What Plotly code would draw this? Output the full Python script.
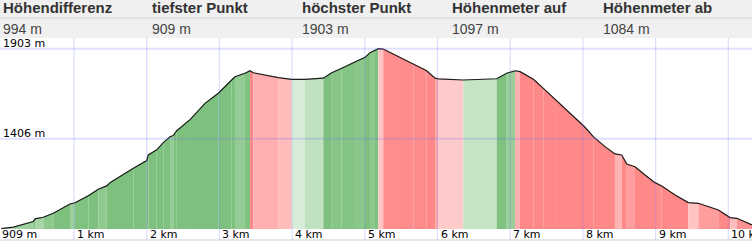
import plotly.graph_objects as go

# ---- data ----
dist_km = [0.0, 0.074, 0.165, 0.44, 0.464, 0.578, 0.715, 0.945, 1.014, 1.197, 1.334,
           1.45, 1.495, 1.816, 2.0, 2.022, 2.138, 2.228, 2.32, 2.366, 2.413, 2.596,
           2.802, 2.985, 3.169, 3.214, 3.352, 3.421, 3.466, 3.81, 3.994, 4.177, 4.429,
           4.545, 4.682, 4.865, 5.003, 5.072, 5.14, 5.186, 5.254, 5.484, 5.667, 5.851,
           5.966, 6.011, 6.355, 6.814, 6.952, 7.066, 7.135, 7.319, 7.456, 7.617, 7.685,
           7.754, 8.029, 8.143, 8.304, 8.441, 8.534, 8.603, 8.717, 8.855, 8.992, 9.084,
           9.267, 9.45, 9.588, 9.863, 10.024, 10.117, 10.326]
elev_m = [909, 911, 917, 948, 963, 972, 994, 1045, 1052, 1091, 1127,
          1145, 1163, 1242, 1285, 1316, 1344, 1384, 1417, 1423, 1450, 1511,
          1601, 1657, 1734, 1748, 1767, 1781, 1770, 1743, 1734, 1734, 1740,
          1770, 1795, 1831, 1855, 1881, 1892, 1903, 1901, 1855, 1818, 1781,
          1740, 1736, 1730, 1737, 1767, 1781, 1776, 1734, 1684, 1623, 1601,
          1574, 1469, 1417, 1362, 1322, 1316, 1266, 1251, 1205, 1163, 1145,
          1095, 1053, 1049, 1012, 970, 966, 930]

header_labels = ["Höhendifferenz", "tiefster Punkt", "höchster Punkt", "Höhenmeter auf", "Höhenmeter ab"]
header_values = ["994 m", "909 m", "1903 m", "1097 m", "1084 m"]
y_ticks = [1903, 1406]
y_tick_labels = ["1903 m", "1406 m"]
min_label = "909 m"
x_ticks = [1, 2, 3, 4, 5, 6, 7, 8, 9, 10]
x_tick_labels = [f"{k} km" for k in x_ticks]

W, H = 752, 241
TOP, BOT = 38, 12
plot_h = H - TOP - BOT


def py2paper(py):
    return (H - BOT - py) / plot_h


def seg_color(grade):
    t = min(abs(grade) / 0.22, 1.0) ** 0.6
    if grade >= 0:
        light, full = (216, 237, 216), (126, 193, 126)
    else:
        light, full = (255, 220, 220), (255, 136, 136)
    c = [round(l + (f - l) * t) for l, f in zip(light, full)]
    return f"rgb({c[0]},{c[1]},{c[2]})"


fig = go.Figure()
for i in range(len(dist_km) - 1):
    d0, d1 = dist_km[i], dist_km[i + 1]
    e0, e1 = elev_m[i], elev_m[i + 1]
    g = (e1 - e0) / ((d1 - d0) * 1000)
    col = seg_color(g)
    fig.add_trace(go.Scatter(x=[d0, d1], y=[e0, e1], mode="lines", fill="tozeroy",
                             fillcolor=col, line=dict(color=col, width=0.8),
                             hoverinfo="skip", showlegend=False))

fig.add_trace(go.Scatter(x=dist_km, y=elev_m, mode="lines",
                         line=dict(color="#1c1c1c", width=1.2),
                         hoverinfo="skip", showlegend=False))

shapes = []
# header background
shapes.append(dict(type="rect", xref="paper", yref="paper", x0=0, x1=1,
                   y0=py2paper(38), y1=py2paper(0), fillcolor="#f0f0f0",
                   line=dict(width=0), layer="below"))
shapes.append(dict(type="line", xref="paper", yref="paper", x0=0, x1=1,
                   y0=py2paper(18), y1=py2paper(18), line=dict(color="#d6d6d6", width=1)))
shapes.append(dict(type="line", xref="paper", yref="paper", x0=0, x1=1,
                   y0=py2paper(240), y1=py2paper(240), line=dict(color="#cfcfcf", width=1)))
# grid lines (drawn above the profile, translucent)
for yt in y_ticks:
    shapes.append(dict(type="line", xref="paper", yref="y", x0=0, x1=1, y0=yt, y1=yt,
                       line=dict(color="rgba(110,110,255,0.22)", width=2), layer="above"))
for xt in x_ticks:
    shapes.append(dict(type="line", xref="x", yref="paper", x0=xt, x1=xt, y0=py2paper(240), y1=1,
                       line=dict(color="rgba(110,110,255,0.22)", width=1.3), layer="above"))

annotations = []
hx = [3, 152, 302, 452, 603]
for x, lab, val in zip(hx, header_labels, header_values):
    annotations.append(dict(x=x / W, y=py2paper(8), xref="paper", yref="paper",
                            text=f"<b>{lab}</b>",
                            showarrow=False, xanchor="left", yanchor="middle",
                            font=dict(family="Liberation Sans, Arial", size=15, color="#333333"),
                            borderpad=0, borderwidth=0))
    annotations.append(dict(x=x / W, y=py2paper(29), xref="paper", yref="paper", text=val,
                            showarrow=False, xanchor="left", yanchor="middle",
                            font=dict(family="Liberation Sans, Arial", size=14, color="#444444"),
                            borderpad=0, borderwidth=0))

axfont = dict(family="DejaVu Sans, Verdana", size=11, color="#000000")
for yt, lab in zip(y_ticks, y_tick_labels):
    annotations.append(dict(x=0, y=yt, xref="paper", yref="y", text=lab, showarrow=False,
                            xanchor="left", yanchor="middle", xshift=3, yshift=5,
                            font=axfont, borderpad=0, borderwidth=0))
annotations.append(dict(x=0, y=py2paper(234.5), xref="x", yref="paper", text=min_label,
                        showarrow=False, xanchor="left", yanchor="middle", xshift=1,
                        font=axfont, borderpad=0, borderwidth=0))
for xt, lab in zip(x_ticks, x_tick_labels):
    annotations.append(dict(x=xt, y=py2paper(234.5), xref="x", yref="paper", text=lab,
                            showarrow=False, xanchor="left", yanchor="middle", xshift=3,
                            font=axfont, borderpad=0, borderwidth=0))

fig.update_layout(
    width=W, height=H,
    margin=dict(l=0, r=0, t=TOP, b=BOT, pad=0),
    paper_bgcolor="white", plot_bgcolor="white",
    showlegend=False,
    xaxis=dict(range=[-0.018, 10.326], showgrid=False, zeroline=False,
               showticklabels=False, fixedrange=True),
    yaxis=dict(range=[907, 1962], showgrid=False, zeroline=False,
               showticklabels=False, fixedrange=True),
    shapes=shapes, annotations=annotations,
)

fig.write_html("out.html", config=dict(displayModeBar=False))
